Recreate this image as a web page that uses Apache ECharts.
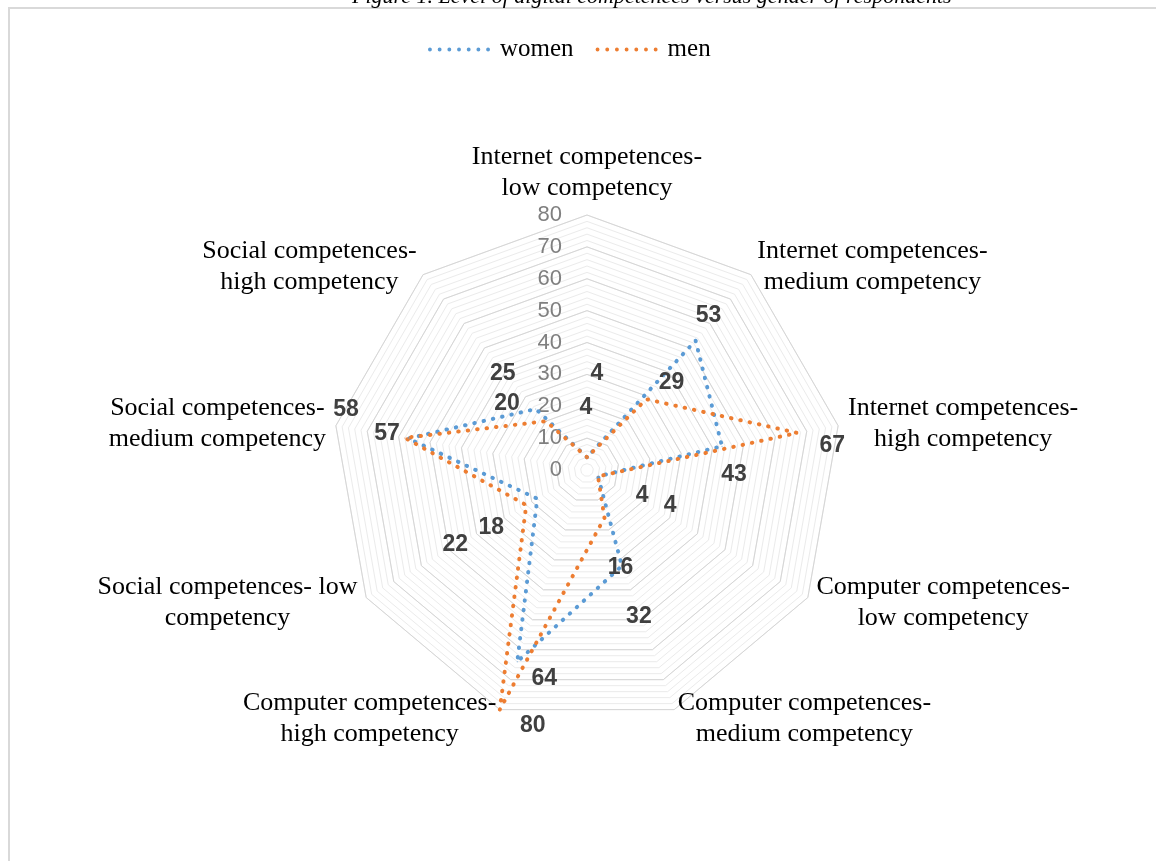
<!DOCTYPE html>
<html><head><meta charset="utf-8">
<script src="https://cdn.jsdelivr.net/npm/echarts@6/dist/echarts.min.js"></script>
<style>html,body{margin:0;padding:0;background:#fff}#c{width:1156px;height:861px}</style>
</head><body><div id="c"></div>
<script>
// ---- data (clockwise from top, as in the reference) ----
const categories = [
  'Internet competences-\nlow competency',
  'Internet competences-\nmedium competency',
  'Internet competences-\nhigh competency',
  'Computer competences-\nlow competency',
  'Computer competences-\nmedium competency',
  'Computer competences-\nhigh competency',
  'Social competences- low\ncompetency',
  'Social competences-\nmedium competency',
  'Social competences-\nhigh competency'
];
const women = [4, 53, 43, 4, 32, 64, 18, 57, 25];
const men = [4, 29, 67, 4, 16, 80, 22, 58, 20];
const tickLabels = [0, 10, 20, 30, 40, 50, 60, 70, 80];
const seriesNames = ['women', 'men'];

// ---- label offsets from each vertex (style, not data) ----
const womenLabelOffsets = [[10,-84],[13,-25],[12,28],[44,19],[17,51],[27,17],[-46,29],[-21,-5],[-33,-35]];
const menLabelOffsets = [[-1,-50],[25,-17],[35,13],[72,29],[16,50],[33,16],[-71,40],[-59,-28],[-39,-18]];

const CX = 587, CY = 470, R = 255;
const N = categories.length;
const axMin = tickLabels[0], axMax = tickLabels[tickLabels.length - 1];
const majorSplits = tickLabels.length - 1;
// ECharts lays radar indicators counter-clockwise; reorder to get clockwise
const ecOrder = categories.map((_, k) => (N - k) % N);
const toEc = arr => ecOrder.map(ci => arr[ci]);

const indicatorsMajor = ecOrder.map((ci, k) => {
  const o = { name: categories[ci], min: axMin, max: axMax };
  if (k === 0) o.axisLabel = { show: true };
  return o;
});
const indicatorsMinor = ecOrder.map(ci => ({ name: '', min: axMin, max: axMax }));

const serif = '"Liberation Serif", "Times New Roman", serif';
const sans = '"Liberation Sans", Arial, sans-serif';

function labelLayout(p) {
  const x = p.rect.x + p.rect.width / 2, y = p.rect.y + p.rect.height / 2;
  let ang = Math.atan2(x - CX, CY - y) * 180 / Math.PI;
  ang = (ang + 360) % 360;
  const idx = Math.round(ang / (360 / N)) % N;
  const offs = p.seriesIndex === 0 ? womenLabelOffsets : menLabelOffsets;
  return { dx: offs[idx][0], dy: offs[idx][1] };
}

const dotsPath = 'path://' + Array.from({length: 7}, (_, i) =>
  `M${i*10},2a2,2 0 1,0 4,0a2,2 0 1,0 -4,0`).join('');

const colors = ['#5B9BD5', '#ED7D31'];
const values = [women, men];

const chart = echarts.init(document.getElementById('c'), null, { renderer: 'canvas' });
chart.setOption({
  backgroundColor: '#ffffff',
  animation: false,
  graphic: [
    { type: 'rect', shape: { x: 9, y: 8, width: 1170, height: 880 }, style: { fill: 'none', stroke: '#d9d9d9', lineWidth: 2 }, silent: true },
    { type: 'text', left: 352, top: -14, style: { text: 'Figure 1. Level of digital competences versus gender of respondents', font: 'italic 22px ' + serif, fill: '#000' }, silent: true }
  ],
  legend: {
    data: seriesNames,
    top: 37,
    left: 428,
    padding: 0,
    icon: dotsPath,
    itemWidth: 62,
    itemHeight: 4,
    itemGap: 22,
    textStyle: { fontFamily: serif, fontSize: 25, color: '#000', padding: [0, 0, 0, 5] }
  },
  radar: [
    {
      center: [CX, CY], radius: R, startAngle: 90, shape: 'polygon',
      splitNumber: majorSplits * 5,
      indicator: indicatorsMinor,
      axisName: { show: false },
      axisLine: { show: false }, axisTick: { show: false }, axisLabel: { show: false },
      splitArea: { show: false },
      splitLine: { lineStyle: { color: '#ebebeb', width: 1 } }
    },
    {
      center: [CX, CY], radius: R, startAngle: 90, shape: 'polygon',
      splitNumber: majorSplits,
      indicator: indicatorsMajor,
      nameGap: 10,
      axisName: {
        color: '#000', fontFamily: serif, fontSize: 26, lineHeight: 31,
        formatter: name => name.split('\n').map(l => '{c|' + l + '}').join('\n'),
        rich: { c: { align: 'center', color: '#000', fontFamily: serif, fontSize: 26, lineHeight: 31 } }
      },
      axisLine: { show: false }, axisTick: { show: false },
      axisLabel: { show: false, color: '#7f7f7f', fontFamily: sans, fontSize: 22, margin: 25 },
      splitArea: { show: false },
      splitLine: { lineStyle: { color: '#d6d6d6', width: 1 } }
    }
  ],
  series: seriesNames.map((nm, si) => ({
    type: 'radar',
    name: nm,
    radarIndex: 1,
    symbol: 'circle',
    symbolSize: 1,
    itemStyle: { color: colors[si] },
    lineStyle: { color: colors[si], width: 4, type: [0.5, 9], cap: 'round' },
    label: { show: true, position: 'inside', color: '#404040', fontFamily: sans, fontWeight: 'bold', fontSize: 23 },
    labelLayout: labelLayout,
    data: [{ name: nm, value: toEc(values[si]) }]
  }))
});
</script></body></html>
